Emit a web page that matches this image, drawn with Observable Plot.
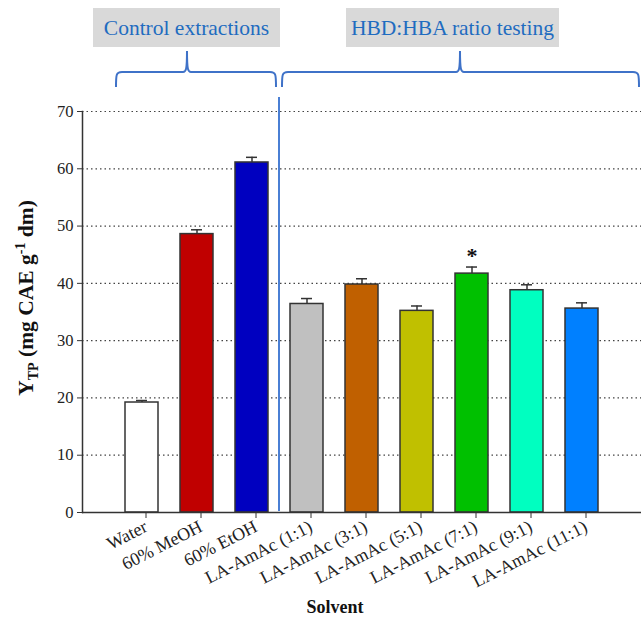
<!DOCTYPE html>
<html><head><meta charset="utf-8">
<script src="https://cdn.jsdelivr.net/npm/d3@7"></script>
<script src="https://cdn.jsdelivr.net/npm/@observablehq/plot@0.6"></script>
<style>html,body{margin:0;padding:0;background:#fff}svg{display:block}</style>
</head><body><div id="chart"></div>
<script>
const solvents = ["Water","60% MeOH","60% EtOH","LA-AmAc (1:1)","LA-AmAc (3:1)","LA-AmAc (5:1)","LA-AmAc (7:1)","LA-AmAc (9:1)","LA-AmAc (11:1)"];
const means = [19.2, 48.6, 61.1, 36.4, 39.8, 35.2, 41.7, 38.8, 35.6];
const errors = [0.35, 0.75, 0.9, 0.95, 1.0, 0.85, 1.15, 0.95, 1.0];
const barColors = ["#ffffff","#c00000","#0000c0","#c0c0c0","#c06000","#c0c000","#00c000","#00ffc0","#0080ff"];
const significance = ["","","","","","","*","",""];
const yTicks = [0,10,20,30,40,50,60,70];
const groupLabels = ["Control extractions","HBD:HBA ratio testing"];
const groupFirst = ["Water","LA-AmAc (1:1)"];
const xTitle = "Solvent";

const data = solvents.map((s,i)=>({solvent:s, mean:means[i], top:means[i]+errors[i], color:barColors[i], sig:significance[i]}));

const W=641, H=621;
const serif = "Liberation Serif, Times New Roman, serif";
const chart = Plot.plot({
  width:W, height:H, marginLeft:82, marginRight:0, marginTop:111, marginBottom:109,
  style:{fontFamily:serif, fontSize:"16px", color:"#222", background:"#fff", overflow:"visible"},
  x:{domain:solvents, range:[110.4,612.2], paddingInner:0.4, paddingOuter:0.2, label:null},
  y:{domain:[0,70], label:null},
  color:{type:"identity"},
  marks:[
    Plot.gridY(yTicks.slice(1), {stroke:"#444", strokeOpacity:1, strokeWidth:1.2, strokeDasharray:"1.5,3"}),
    Plot.barY(data, {x:"solvent", y:"mean", fill:"color", stroke:"#333", strokeWidth:1.5}),
    Plot.ruleX(data, {x:"solvent", y1:"mean", y2:"top", stroke:"#333", strokeWidth:1.5}),
    Plot.tickY(data, {x:"solvent", y:"top", insetLeft:11, insetRight:11, stroke:"#333", strokeWidth:1.5}),
    Plot.text(data.filter(d=>d.sig), {x:"solvent", y:"top", text:"sig", dy:-11, fontSize:22, fontWeight:"bold", fill:"#111"}),
    Plot.ruleY([0], {stroke:"#333", strokeWidth:1.5}),
    Plot.frame({anchor:"left", stroke:"#333", strokeWidth:1.5}),
    Plot.axisY(yTicks, {tickSize:5, tickPadding:4, fontSize:16.5, stroke:"#333", fill:"#222", label:null}),
    Plot.axisX({tickSize:6, tickPadding:7, tickRotate:-27, fontSize:18, dx:4, stroke:"#333", fill:"#222", label:null})
  ]
});
document.getElementById("chart").append(chart);

const svg = d3.select(chart);
const x = chart.scale("x");
const bw = x.bandwidth, step = x.step;
const xl = s => x.apply(s);
const divX = xl("60% EtOH") + bw + (step - bw)/2;

svg.append("line").attr("x1",divX).attr("x2",divX).attr("y1",97).attr("y2",511)
  .attr("stroke","#4a7fd4").attr("stroke-width",2);

const brackets = [
  {x0: xl(groupFirst[0]) - 9, x1: divX - 3, xc: 187},
  {x0: divX + 3, x1: W - 2, xc: 460}
];
brackets.forEach(b=>{
  const yh=72, ye=87, yt=51, r=6;
  const p = `M${b.x0},${ye} C${b.x0},${yh+3} ${b.x0},${yh} ${b.x0+r},${yh} L${b.xc-4},${yh} C${b.xc-1},${yh} ${b.xc},${yh-2} ${b.xc},${yt}`
    + ` M${b.xc},${yt} C${b.xc},${yh-2} ${b.xc+1},${yh} ${b.xc+4},${yh} L${b.x1-r},${yh} C${b.x1},${yh} ${b.x1},${yh+3} ${b.x1},${ye}`;
  svg.append("path").attr("d",p).attr("fill","none").attr("stroke","#3f72c8").attr("stroke-width",2);
});

const boxes = [{x:93, w:187, label:groupLabels[0]}, {x:346, w:213, label:groupLabels[1]}];
boxes.forEach(b=>{
  svg.append("rect").attr("x",b.x).attr("y",8).attr("width",b.w).attr("height",39).attr("fill","#d9d9d9");
  svg.append("text").attr("x",b.x+b.w/2).attr("y",27).attr("dy","0.35em").attr("text-anchor","middle")
    .attr("font-family",serif).attr("font-size",21.5).attr("fill","#1f6cc0").text(b.label);
});

svg.append("text").attr("x",335).attr("y",613).attr("text-anchor","middle")
  .attr("font-family",serif).attr("font-size",18).attr("font-weight","bold").attr("fill","#111").text(xTitle);

const yt = svg.append("text").attr("transform","translate(33,298) rotate(-90)").attr("text-anchor","middle")
  .attr("font-family",serif).attr("font-size",21.5).attr("font-weight","bold").attr("fill","#111");
yt.append("tspan").text("Y");
yt.append("tspan").attr("font-size",14).attr("dy",5).text("TP");
yt.append("tspan").attr("dy",-5).text(" (mg CAE g");
yt.append("tspan").attr("font-size",14).attr("dy",-8).text("-1");
yt.append("tspan").attr("dy",8).text(" dm)");
</script>
</body></html>
